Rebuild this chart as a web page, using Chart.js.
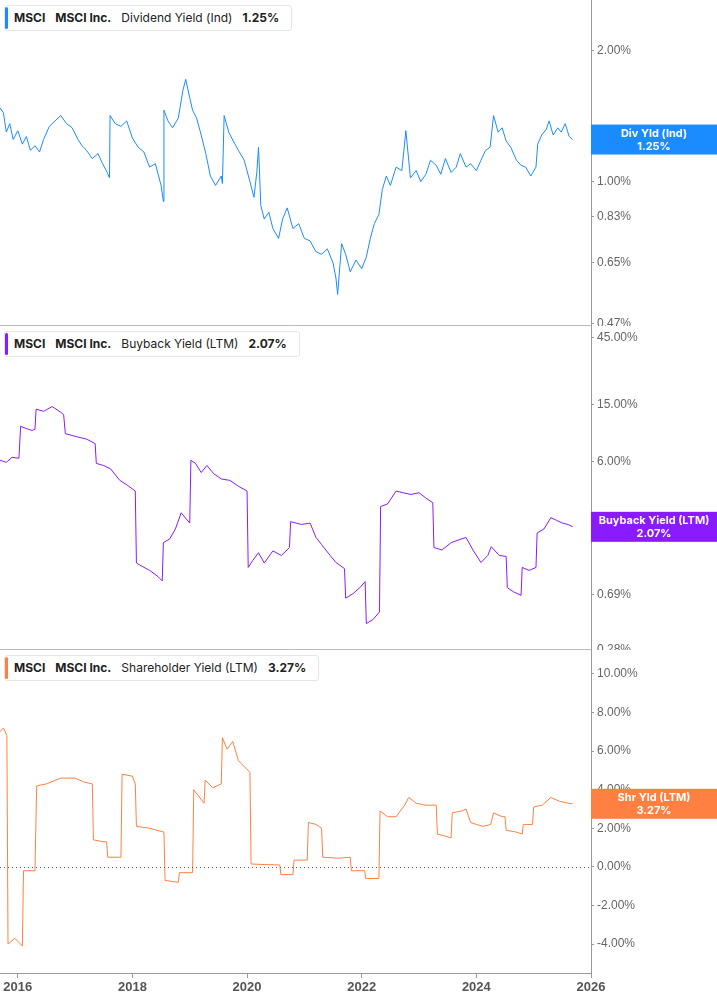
<!DOCTYPE html>
<html>
<head>
<meta charset="utf-8">
<script src="https://cdn.jsdelivr.net/npm/chart.js@4.4.0/dist/chart.umd.min.js"></script>
<style>
  body { margin: 0; background: #fff; font-family: Inter, "Noto Sans", sans-serif; }
  .panel { position: absolute; left: 0; width: 717px; }
  .panel canvas { position: absolute; left: 0; top: 0; }
  .legend {
    position: absolute; left: 4px; top: 5px; height: 24px; padding: 0 12px 0 9px;
    background: #fff; border: 1px solid #e6e6e6; border-radius: 3px;
    font-size: 12px; line-height: 24px; color: #222; white-space: nowrap; z-index: 2;
  }
  .legend::before { content: ''; position: absolute; left: 0; top: 1px; bottom: 1px; width: 3px; border-radius: 2px; background: var(--c); }
  .legend b { font-weight: 700; margin-right: 10px; }
  .legend span { margin-right: 10px; }
</style>
</head>
<body>
<div class="panel" style="top:0;height:326px"><canvas id="c1" width="717" height="326"></canvas><div class="legend" style="--c:#1a8cff"><b>MSCI</b><b>MSCI Inc.</b><span>Dividend Yield (Ind)</span><b style="margin:0">1.25%</b></div></div>
<div class="panel" style="top:326px;height:324px"><canvas id="c2" width="717" height="324"></canvas><div class="legend" style="--c:#8a1aff"><b>MSCI</b><b>MSCI Inc.</b><span>Buyback Yield (LTM)</span><b style="margin:0">2.07%</b></div></div>
<div class="panel" style="top:650px;height:355px"><canvas id="c3" width="717" height="355"></canvas><div class="legend" style="--c:#ff8040"><b>MSCI</b><b>MSCI Inc.</b><span>Shareholder Yield (LTM)</span><b style="margin:0">3.27%</b></div></div>
<script>
// dates in decimal years
const divDates = [2015.69,2015.75,2015.8,2015.86,2015.92,2016.0,2016.08,2016.15,2016.22,2016.3,2016.38,2016.45,2016.55,2016.65,2016.75,2016.85,2016.95,2017.05,2017.12,2017.2,2017.3,2017.4,2017.48,2017.56,2017.6,2017.61,2017.7,2017.8,2017.9,2018.0,2018.1,2018.2,2018.3,2018.4,2018.5,2018.54,2018.55,2018.62,2018.7,2018.8,2018.88,2018.93,2019.0,2019.05,2019.12,2019.2,2019.28,2019.36,2019.45,2019.55,2019.57,2019.6,2019.68,2019.76,2019.85,2019.95,2020.05,2020.12,2020.17,2020.2,2020.24,2020.3,2020.38,2020.45,2020.55,2020.62,2020.7,2020.8,2020.9,2021.0,2021.1,2021.2,2021.3,2021.4,2021.5,2021.55,2021.58,2021.65,2021.72,2021.8,2021.9,2022.0,2022.08,2022.15,2022.22,2022.3,2022.36,2022.43,2022.5,2022.6,2022.7,2022.77,2022.85,2022.95,2023.03,2023.12,2023.2,2023.3,2023.38,2023.46,2023.56,2023.65,2023.72,2023.82,2023.9,2024.0,2024.08,2024.16,2024.24,2024.3,2024.38,2024.45,2024.52,2024.6,2024.7,2024.78,2024.86,2024.95,2025.04,2025.07,2025.14,2025.22,2025.27,2025.34,2025.42,2025.48,2025.55,2025.62,2025.68];
const divValues = [1.48,1.44,1.30,1.36,1.25,1.31,1.22,1.27,1.18,1.21,1.17,1.25,1.34,1.38,1.42,1.36,1.33,1.25,1.21,1.18,1.13,1.16,1.10,1.05,1.02,1.42,1.36,1.34,1.38,1.26,1.20,1.17,1.08,1.10,0.98,0.90,1.46,1.38,1.33,1.40,1.62,1.72,1.56,1.46,1.40,1.28,1.16,1.03,0.98,1.03,0.99,1.42,1.30,1.24,1.18,1.12,1.00,0.92,1.05,1.20,0.88,0.82,0.85,0.78,0.74,0.82,0.87,0.78,0.80,0.74,0.73,0.69,0.68,0.70,0.65,0.60,0.55,0.72,0.68,0.62,0.66,0.63,0.67,0.74,0.80,0.84,0.96,1.03,0.98,1.08,1.06,1.31,1.02,1.06,1.00,1.04,1.12,1.09,1.04,1.13,1.05,1.08,1.16,1.08,1.10,1.06,1.12,1.18,1.20,1.42,1.30,1.33,1.24,1.20,1.12,1.09,1.08,1.03,1.08,1.22,1.28,1.32,1.38,1.28,1.33,1.30,1.36,1.27,1.25];

const bbDates = [2015.69,2015.8,2015.9,2016.02,2016.05,2016.15,2016.25,2016.3,2016.32,2016.45,2016.6,2016.75,2016.8,2016.83,2017.0,2017.2,2017.35,2017.37,2017.5,2017.62,2017.78,2017.9,2018.05,2018.07,2018.15,2018.3,2018.45,2018.52,2018.54,2018.65,2018.75,2018.85,2019.0,2019.02,2019.1,2019.2,2019.3,2019.42,2019.55,2019.7,2019.85,2020.0,2020.02,2020.1,2020.2,2020.3,2020.45,2020.6,2020.74,2020.76,2020.95,2021.1,2021.2,2021.3,2021.45,2021.55,2021.7,2021.72,2021.85,2021.98,2022.06,2022.08,2022.2,2022.31,2022.33,2022.45,2022.6,2022.72,2022.86,2023.0,2023.12,2023.24,2023.26,2023.4,2023.56,2023.7,2023.82,2023.95,2024.08,2024.2,2024.26,2024.4,2024.52,2024.54,2024.65,2024.78,2024.8,2024.92,2025.04,2025.06,2025.18,2025.3,2025.4,2025.5,2025.6,2025.68];
const bbValues = [6.1,5.9,6.4,6.3,10.6,10.2,9.9,10.1,14.0,13.5,14.6,13.3,12.8,9.4,9.0,8.6,8.0,5.8,5.6,5.3,4.4,4.1,3.7,1.15,1.10,1.02,0.92,0.86,1.6,1.7,2.0,2.6,2.2,6.1,5.8,5.0,5.6,4.9,4.5,4.4,4.0,3.7,1.07,1.20,1.36,1.15,1.40,1.30,1.48,2.25,2.15,2.2,1.75,1.55,1.30,1.16,1.05,0.65,0.70,0.78,0.85,0.43,0.46,0.52,2.88,3.0,3.7,3.6,3.5,3.6,3.3,3.06,1.48,1.42,1.60,1.68,1.74,1.40,1.16,1.30,1.50,1.30,1.28,0.77,0.72,0.68,1.07,1.02,1.07,1.87,2.0,2.4,2.3,2.2,2.15,2.07];

const shyDates = [2015.69,2015.75,2015.81,2015.83,2015.95,2016.08,2016.1,2016.3,2016.33,2016.5,2016.75,2017.0,2017.15,2017.3,2017.32,2017.5,2017.55,2017.57,2017.8,2017.82,2018.0,2018.05,2018.07,2018.3,2018.55,2018.57,2018.8,2018.82,2019.05,2019.07,2019.25,2019.27,2019.4,2019.55,2019.57,2019.65,2019.75,2019.85,2020.05,2020.07,2020.3,2020.57,2020.59,2020.8,2020.82,2021.05,2021.07,2021.2,2021.3,2021.32,2021.6,2021.8,2021.82,2022.05,2022.07,2022.3,2022.32,2022.45,2022.6,2022.75,2022.82,2022.95,2023.1,2023.3,2023.32,2023.45,2023.56,2023.58,2023.75,2023.82,2023.9,2024.0,2024.12,2024.25,2024.3,2024.45,2024.5,2024.52,2024.7,2024.8,2024.82,2024.98,2025.0,2025.15,2025.3,2025.45,2025.6,2025.68];
const shyValues = [7.0,7.2,6.8,-4.0,-3.7,-4.1,-0.2,-0.2,4.2,4.3,4.6,4.6,4.4,4.3,1.4,1.3,1.3,0.5,0.5,4.8,4.7,4.3,2.1,2.0,1.8,-0.7,-0.8,-0.3,-0.3,4.0,3.3,4.5,4.1,4.3,6.7,6.1,6.5,5.5,4.9,0.15,0.12,0.1,-0.4,-0.4,0.35,0.35,2.3,2.2,2.0,0.5,0.45,0.5,-0.2,-0.2,-0.6,-0.6,2.9,2.6,2.6,3.2,3.6,3.3,3.2,3.2,1.7,1.6,1.5,2.8,2.9,3.0,2.3,2.2,2.1,2.2,2.8,2.6,2.6,1.9,1.8,1.7,2.2,2.2,3.1,3.2,3.6,3.4,3.3,3.27];

const yearTicks = [2016,2018,2020,2022,2024,2026];
const divTicks = [0.47,0.65,0.83,1.0,2.0];
const bbTicks = [0.28,0.69,2.0,6.0,15.0,45.0];
const shyTicks = [-4,-2,0,2,4,6,8,10];

const pts = (d, v) => d.map((x, i) => ({ x: x, y: v[i] }));
const xMin = 2015.69, xMax = 2026.0;

function tagPlugin(label, value, color, sep, zero) {
  return {
    id: 'tag',
    afterDraw(chart) {
      const { ctx, chartArea: a } = chart;
      const ys = chart.scales.y;
      ctx.save();
      if (zero) {
        const y0 = Math.round(ys.getPixelForValue(0)) + 0.5;
        ctx.strokeStyle = '#555'; ctx.lineWidth = 1; ctx.setLineDash([1, 3]);
        ctx.beginPath(); ctx.moveTo(a.left, y0); ctx.lineTo(a.right, y0); ctx.stroke();
        ctx.setLineDash([]);
      }
      if (sep) {
        ctx.strokeStyle = '#bbb'; ctx.lineWidth = 1;
        ctx.beginPath(); ctx.moveTo(0, a.bottom - 0.5); ctx.lineTo(a.right, a.bottom - 0.5); ctx.stroke();
      }
      const y = ys.getPixelForValue(value);
      ctx.fillStyle = color;
      ctx.fillRect(a.right, y - 15, chart.width - a.right, 30);
      ctx.fillStyle = '#fff';
      ctx.font = 'bold 11px Inter, sans-serif';
      ctx.textAlign = 'center'; ctx.textBaseline = 'middle';
      const cx = a.right + (chart.width - a.right) / 2;
      ctx.fillText(label, cx, y - 6);
      ctx.fillText(value.toFixed(2) + '%', cx, y + 7);
      ctx.restore();
    }
  };
}

function makeChart(id, data, color, yOpts, ticks, showX, tag) {
  new Chart(document.getElementById(id), {
    type: 'line',
    data: { datasets: [{ data: data, borderColor: color, borderWidth: 1, pointRadius: 0, tension: 0 }] },
    options: {
      responsive: false, animation: false,
      layout: { padding: 0 },
      plugins: { legend: { display: false }, tooltip: { enabled: false } },
      scales: {
        x: {
          type: 'linear', min: xMin, max: xMax, display: showX,
          afterBuildTicks: s => { s.ticks = yearTicks.map(v => ({ value: v })); },
          ticks: { callback: v => String(v), color: '#555', font: { size: 13, weight: 'bold' }, padding: 2, maxRotation: 0 },
          grid: { drawOnChartArea: false, tickLength: 5, color: '#999' },
          border: { color: '#999' },
          afterFit: s => { s.height = showX ? 32 : 0; s.paddingLeft = 0; s.paddingRight = 0; }
        },
        y: Object.assign({
          position: 'right',
          afterBuildTicks: s => { s.ticks = ticks.map(v => ({ value: v })); },
          ticks: { callback: v => v.toFixed(2) + '%', color: '#666', font: { size: 12 }, padding: 3 },
          grid: { drawOnChartArea: false, tickLength: 3, color: '#999' },
          border: { color: '#999' },
          afterFit: s => { s.width = 126; s.paddingTop = 0; s.paddingBottom = 0; }
        }, yOpts)
      }
    },
    plugins: [tag]
  });
}

makeChart('c1', pts(divDates, divValues), '#1a8cff', { type: 'logarithmic', min: 0.465, max: 2.62 }, divTicks, false,
  tagPlugin('Div Yld (Ind)', 1.25, '#1a8cff', true, false));
makeChart('c2', pts(bbDates, bbValues), '#8a1aff', { type: 'logarithmic', min: 0.28, max: 54 }, bbTicks, false,
  tagPlugin('Buyback Yield (LTM)', 2.07, '#8a1aff', true, false));
makeChart('c3', pts(shyDates, shyValues), '#ff8040', { type: 'linear', min: -5.5, max: 11.24 }, shyTicks, true,
  tagPlugin('Shr Yld (LTM)', 3.27, '#ff8040', false, true));
</script>
</body>
</html>
